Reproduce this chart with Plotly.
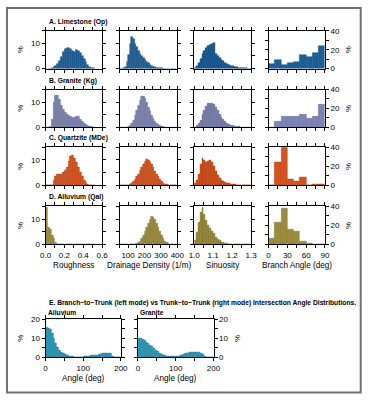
import plotly.graph_objects as go

W, H = 373, 401

# ---------------- data ----------------
# Roughness: bins 0.02 wide starting at 0.0
rough_centers = [0.01, 0.03, 0.05, 0.07, 0.09, 0.11, 0.13, 0.15, 0.17, 0.19, 0.21, 0.23, 0.25,
                 0.27, 0.29, 0.31, 0.33, 0.35, 0.37, 0.39, 0.41, 0.43, 0.45, 0.47, 0.49, 0.51]
rough_lime = [0, 0, 0, 0.2, 0.5, 1.0, 1.8, 3.0, 4.8, 6.5, 7.8, 8.2, 8.4, 8.0, 7.2, 6.8, 7.4, 7.2,
              6.2, 5.0, 3.8, 2.6, 1.6, 0.8, 0.3, 0.1]
rough_gran = [0, 0, 0.3, 3.0, 10.0, 12.8, 12.5, 11.0, 8.5, 7.0, 6.0, 5.2, 4.6, 4.2, 4.0, 3.8, 4.2,
              4.4, 3.2, 2.2, 1.6, 1.0, 0.6, 0.3, 0.1, 0]
rough_quar = [0, 0, 0, 0, 2.0, 3.6, 4.2, 4.3, 4.5, 5.0, 5.8, 7.2, 9.3, 11.5, 12.0, 10.6, 9.0, 7.0,
              5.2, 3.4, 2.2, 1.2, 0.5, 0.2, 0, 0]
rough_allu = [14.5, 6.8, 5.8, 3.6, 2.3, 0.8, 0.2, 0, 0, 0, 0, 0, 0, 0, 0, 0, 0, 0, 0, 0, 0, 0, 0,
              0, 0, 0]

# Drainage density: bins 10 wide
dd_centers = [55, 65, 75, 85, 95, 105, 115, 125, 135, 145, 155, 165, 175, 185, 195, 205, 215, 225,
              235, 245, 255, 265, 275, 285, 295, 305, 315, 325, 335, 345, 355, 365, 375, 385, 395]
dd_lime = [0, 0, 0.2, 0.6, 2.5, 5.5, 10.0, 12.8, 12.0, 10.0, 8.6, 7.2, 6.0, 5.0, 4.2, 3.4, 2.7,
           2.1, 1.6, 1.2, 0.8, 0.55, 0.4, 0.25, 0.15, 0.1, 0.05, 0, 0, 0, 0, 0, 0, 0, 0]
dd_gran = [0, 0, 0, 0, 0, 0.3, 0.8, 1.6, 2.8, 4.5, 6.5, 8.7, 10.8, 12.3, 12.4, 11.5, 9.8, 8.0,
           6.2, 4.6, 3.3, 2.3, 1.5, 0.9, 0.5, 0.25, 0.1, 0, 0, 0, 0, 0, 0, 0, 0]
dd_quar = [0, 0, 0, 0, 0, 0.2, 0.5, 1.0, 1.6, 2.4, 3.4, 4.5, 5.8, 7.0, 8.3, 9.3, 10.3, 10.0, 9.2,
           8.2, 7.0, 5.7, 4.5, 3.4, 2.4, 1.6, 1.0, 0.6, 0.3, 0.15, 0, 0, 0, 0, 0]
dd_allu = [0, 0, 0, 0, 0, 0, 0, 0, 0, 0.2, 0.4, 0.8, 1.4, 2.3, 3.5, 5.0, 6.6, 8.3, 9.8, 11.0,
           10.8, 9.8, 8.3, 6.6, 5.0, 3.5, 2.3, 1.4, 0.8, 0.4, 0.2, 0.1, 0, 0, 0]

# Sinuosity: bins 0.01 wide
sin_centers = [1.005, 1.015, 1.025, 1.035, 1.045, 1.055, 1.065, 1.075, 1.085, 1.095, 1.105,
               1.115, 1.125, 1.135, 1.145, 1.155, 1.165, 1.175, 1.185, 1.195, 1.205, 1.215,
               1.225, 1.235, 1.245, 1.255, 1.265, 1.275, 1.285, 1.295]
sin_lime = [0.4, 1.2, 2.4, 4.0, 5.8, 7.2, 8.2, 9.1, 9.6, 10.0, 10.2, 6.0, 5.0, 4.3, 3.6, 3.0, 2.4,
            1.8, 1.4, 1.1, 0.9, 0.7, 0.5, 0.4, 0.3, 0.2, 0.15, 0.1, 0.05, 0]
sin_gran = [0, 0.5, 1.5, 2.8, 5.0, 6.8, 8.3, 9.3, 9.6, 9.5, 9.1, 8.0, 6.5, 5.2, 4.0, 3.0, 2.3,
            1.6, 1.1, 0.8, 0.5, 0.3, 0.2, 0.1, 0, 0, 0, 0, 0, 0]
sin_quar = [0.8, 2.0, 4.5, 8.5, 10.5, 10.0, 9.2, 9.5, 9.7, 9.2, 7.5, 5.5, 3.8, 2.8, 2.1, 1.6, 1.2,
            0.9, 0.7, 0.5, 0.4, 0.3, 0.2, 0.1, 0.05, 0, 0, 0, 0, 0]
sin_allu = [1.7, 4.9, 8.7, 12.6, 14.5, 12.0, 9.4, 7.4, 6.2, 5.2, 4.2, 3.0, 2.2, 1.5, 1.0, 0.7, 0.4,
            0.25, 0.1, 0, 0, 0, 0, 0, 0, 0, 0, 0, 0, 0]

# Branch angle: bins 10 deg
ba_centers = [5, 15, 25, 35, 45, 55, 65, 75, 85]
ba_lime = [4.5, 9.0, 3.5, 6.5, 7.0, 14.0, 12.5, 16.5, 24.5]
ba_gran = [0, 6.5, 11.5, 11.5, 11.0, 13.5, 9.0, 11.5, 24.0]
ba_quar = [0, 24.0, 40.0, 6.5, 4.2, 8.4, 0, 1.7, 1.7]
ba_allu = [6.2, 22.7, 38.3, 15.9, 13.8, 2.8, 1.0, 0, 0]

# Intersection angle: bins 5 deg
ia_centers = [2.5, 7.5, 12.5, 17.5, 22.5, 27.5, 32.5, 37.5, 42.5, 47.5, 52.5, 57.5, 62.5, 67.5,
              72.5, 77.5, 82.5, 87.5, 92.5, 97.5, 102.5, 107.5, 112.5, 117.5, 122.5, 127.5,
              132.5, 137.5, 142.5, 147.5, 152.5, 157.5, 162.5, 167.5, 172.5, 177.5, 182.5,
              187.5, 192.5, 197.5]
ia_allu = [15.9, 15.5, 14.5, 12.5, 9.8, 7.5, 5.5, 4.0, 2.9, 2.0, 1.4, 1.0, 0.7, 0.5, 0.4, 0.3,
           0.3, 0.3, 0.3, 0.3, 0.4, 0.5, 0.6, 0.8, 0.9, 1.0, 1.1, 1.3, 1.5, 1.7, 2.0, 2.3, 2.4,
           2.1, 2.2, 0.8, 0, 0, 0, 0]
ia_gran = [10.0, 9.8, 9.5, 8.8, 8.0, 7.2, 6.4, 5.6, 4.6, 3.8, 3.0, 2.4, 1.8, 1.3, 0.9, 0.7, 0.6,
           0.5, 0.5, 0.5, 0.6, 0.8, 1.0, 1.3, 1.7, 2.0, 2.3, 2.6, 2.8, 2.9, 2.8, 2.7, 2.5, 2.2,
           1.6, 0.8, 0, 0, 0, 0]

row_titles = ["A. Limestone (Op)", "B. Granite (Kg)", "C. Quartzite (MDe)", "D. Alluvium (Qal)"]
col_titles = ["Roughness", "Drainage Density (1/m)", "Sinuosity", "Branch Angle (deg)"]
e_title = ("E. Branch\u2212to\u2212Trunk (left mode) vs Trunk\u2212to\u2212Trunk (right mode) "
           "Intersection Angle Distributions.")
e_labels = ["Alluvium", "Granite"]

# ---------------- styling ----------------
row_colors = ["#1b5e99", "#7b84b2", "#d4521d", "#9b8c3d"]
row_edges = ["#154a7a", "#5f668c", "#a83f15", "#786c2e"]
e_color = "#2a99b7"
e_edge = "#1f7590"
FONT = "Liberation Sans, Arial, sans-serif"

col_centers = [rough_centers, dd_centers, sin_centers, ba_centers]
col_widths = [0.02, 10, 0.01, 10]
data = [
    [rough_lime, dd_lime, sin_lime, ba_lime],
    [rough_gran, dd_gran, sin_gran, ba_gran],
    [rough_quar, dd_quar, sin_quar, ba_quar],
    [rough_allu, dd_allu, sin_allu, ba_allu],
]
col_ranges = [[0, 0.6], [50, 400], [1.0, 1.3], [0, 90]]
col_tickvals = [
    [0, 0.1, 0.2, 0.3, 0.4, 0.5, 0.6],
    [50, 100, 150, 200, 250, 300, 350, 400],
    [1.0, 1.05, 1.1, 1.15, 1.2, 1.25, 1.3],
    [0, 15, 30, 45, 60, 75, 90],
]
col_ticktext = [
    ["0.0", "", "0.2", "", "0.4", "", "0.6"],
    ["", "100", "", "200", "", "300", "", "400"],
    ["1.0", "", "1.1", "", "1.2", "", "1.3"],
    ["0", "", "30", "", "60", "", "90"],
]

col_x = [(41, 99.5), (118, 177.5), (195, 254), (272, 330.5)]
row_y = [(27.5, 66), (87.5, 126), (146.5, 185.5), (207, 246)]


def xd(a, b):
    return [a / W, b / W]


def yd(top, bottom):
    return [1 - bottom / H, 1 - top / H]


def axis_common():
    return dict(showline=True, linecolor="black", linewidth=1, mirror="allticks",
                ticks="outside", ticklen=3, tickwidth=0.8, tickcolor="black",
                showgrid=False, zeroline=False, fixedrange=True,
                tickfont=dict(family=FONT, size=8, color="black"))


fig = go.Figure()
layout = {}
k = 0
for r in range(4):
    for c in range(4):
        k += 1
        xa = "x" if k == 1 else f"x{k}"
        ya = "y" if k == 1 else f"y{k}"
        fig.add_trace(go.Bar(
            x=col_centers[c], y=data[r][c], width=col_widths[c],
            xaxis=xa, yaxis=ya, showlegend=False,
            marker=dict(color=row_colors[r], line=dict(color=row_edges[r], width=0.4)),
        ))
        xax = axis_common()
        xax.update(domain=xd(*col_x[c]), range=col_ranges[c], anchor=ya,
                   tickvals=col_tickvals[c], ticktext=col_ticktext[c],
                   showticklabels=(r == 3))
        yax = axis_common()
        if c == 3:
            yax.update(range=[0, 40], tickvals=[0, 10, 20, 30, 40],
                       ticktext=["0", "", "20", "", "40"], side="right")
        else:
            yax.update(range=[0, 15], tickvals=[0, 5, 10, 15],
                       ticktext=["0", "", "10", ""])
        yax.update(domain=yd(*row_y[r]), anchor=xa, showticklabels=(c in (0, 3)))
        layout["xaxis" if k == 1 else f"xaxis{k}"] = xax
        layout["yaxis" if k == 1 else f"yaxis{k}"] = yax

# Row E
e_x = [(41, 119), (136.7, 215)]
e_y = (322.5, 361.5)
for j, vals in enumerate([ia_allu, ia_gran]):
    k += 1
    xa, ya = f"x{k}", f"y{k}"
    fig.add_trace(go.Bar(
        x=ia_centers, y=vals, width=5, xaxis=xa, yaxis=ya, showlegend=False,
        marker=dict(color=e_color, line=dict(color=e_edge, width=0.4)),
    ))
    xax = axis_common()
    xax.update(domain=xd(*e_x[j]), range=[0, 200], anchor=ya,
               tickvals=[0, 50, 100, 150, 200], ticktext=["0", "", "100", "", "200"])
    yax = axis_common()
    yax.update(domain=yd(*e_y), range=[0, 20], anchor=xa,
               tickvals=[0, 5, 10, 15, 20], ticktext=["0", "", "10", "", "20"],
               side="left" if j == 0 else "right")
    layout[f"xaxis{k}"] = xax
    layout[f"yaxis{k}"] = yax

ann = []


def add_text(text, px, py, size=8, bold=False, xanchor="center", angle=0):
    ann.append(dict(text=f"<b>{text}</b>" if bold else text, x=px / W, y=1 - py / H,
                    xref="paper", yref="paper", showarrow=False, xanchor=xanchor,
                    yanchor="middle", textangle=angle,
                    font=dict(family=FONT, size=size, color="black")))


title_y = [18.5, 78.5, 137.5, 197.5]
for r in range(4):
    add_text(row_titles[r], 42.5, title_y[r], size=6.8, bold=True, xanchor="left")
    mid = (row_y[r][0] + row_y[r][1]) / 2
    add_text("%", 15, mid, size=8, angle=-90)
    add_text("%", 355, mid, size=8, angle=-90)

xt = [70, 148, 224.5, 301]
for c in range(4):
    add_text(col_titles[c], xt[c], 268, size=8.2)

add_text(e_title, 42.5, 305.5, size=6.7, bold=True, xanchor="left")
add_text(e_labels[0], 41, 316, size=6.7, bold=True, xanchor="left")
add_text(e_labels[1], 137, 316, size=6.7, bold=True, xanchor="left")
add_text("%", 15, 342, size=8, angle=-90)
add_text("%", 240, 342, size=8, angle=-90)
add_text("Angle (deg)", 80, 383.5, size=8.2)
add_text("Angle (deg)", 176, 383.5, size=8.2)

shapes = [dict(type="rect", xref="paper", yref="paper",
               x0=1 / W, x1=367.5 / W, y0=1 - 397.5 / H, y1=1 - 4 / H,
               line=dict(color="#707070", width=2), fillcolor="rgba(0,0,0,0)")]

fig.update_layout(
    width=W, height=H, margin=dict(l=0, r=0, t=0, b=0),
    paper_bgcolor="white", plot_bgcolor="white",
    bargap=0, barmode="overlay", showlegend=False,
    annotations=ann, shapes=shapes,
    font=dict(family=FONT, size=8, color="black"),
    **layout,
)

fig.write_html("out.html", config={"displayModeBar": False})
